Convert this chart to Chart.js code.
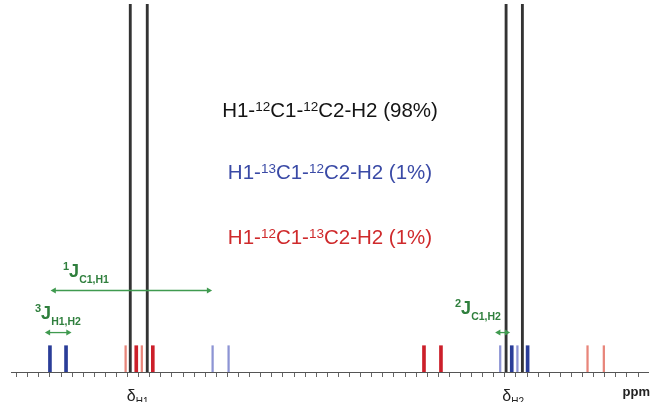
<!DOCTYPE html>
<html>
<head>
<meta charset="utf-8">
<script src="https://cdn.jsdelivr.net/npm/chart.js@4.4.0/dist/chart.umd.min.js"></script>
<style>
  html, body { margin: 0; padding: 0; background: #fff; overflow: hidden; }
</style>
</head>
<body>
<canvas id="c" width="652" height="402"></canvas>
<script>
// Stick spectrum of H1/H2 with 13C satellites (x in tick units, y in % abundance)
const mainPos      = [10.24, 11.77, 44.11, 45.58];
const mainInt      = [49, 49, 49, 49];
const blueStrongPos = [3.0, 4.45, 44.62, 46.05];
const blueWeakPos   = [17.66, 19.10, 43.58, 45.13];
const redStrongPos  = [10.78, 12.27, 36.71, 38.24];
const redWeakPos    = [9.82, 11.28, 51.45, 52.92];
const satInt        = [1, 1, 1, 1];

// coupling arrows: from / to (x) and height (y)
const jNames = ['1', '3', '2'];
const jSubs  = ['C1,H1', 'H1,H2', 'C1,H2'];
const jFrom  = [3.37, 2.86, 43.44];
const jTo    = [17.3, 4.63, 44.16];
const jLevel = [3.1, 1.5, 1.5];

// chemical shift markers
const shiftNames  = ['H1', 'H2'];
const shiftValues = [10.9, 44.75];

// species captions
const speciesText = [
  [['H1-', 0], ['12', 1], ['C1-', 0], ['12', 1], ['C2-H2 (98%)', 0]],
  [['H1-', 0], ['13', 1], ['C1-', 0], ['12', 1], ['C2-H2 (1%)', 0]],
  [['H1-', 0], ['12', 1], ['C1-', 0], ['13', 1], ['C2-H2 (1%)', 0]]
];

const GREEN = '#3f9a4f';
const GREEN_TXT = '#2f7f3d';

function sticks(pos, ints, color, thick, order) {
  return {
    type: 'bar',
    data: pos.map((x, i) => ({ x, y: ints[i] })),
    backgroundColor: color,
    borderWidth: 0,
    barThickness: thick,
    grouped: false,
    order
  };
}

function arrow(i) {
  return {
    type: 'line',
    data: [{ x: jFrom[i], y: jLevel[i] }, { x: jTo[i], y: jLevel[i] }],
    borderColor: GREEN,
    borderWidth: 1.3,
    pointStyle: 'triangle',
    pointRadius: 3.5,
    pointRotation: [-90, 90],
    pointBackgroundColor: GREEN,
    pointBorderWidth: 0,
    order: -1
  };
}

function rich(ctx, segs, x, y, o) {
  const f = sz => (o.bold ? 'bold ' : '') + sz + 'px "Liberation Sans", Arial, sans-serif';
  let w = 0;
  segs.forEach(([t, m]) => { ctx.font = f(m ? o.small : o.size); w += ctx.measureText(t).width; });
  let cx = o.align === 'center' ? x - w / 2 : x;
  ctx.fillStyle = o.color;
  ctx.textAlign = 'left';
  ctx.textBaseline = 'alphabetic';
  segs.forEach(([t, m]) => {
    ctx.font = f(m ? (m === 1 && o.supSize ? o.supSize : o.small) : o.size);
    const dy = m === 1 ? -o.up : (m === -1 ? o.down : 0);
    ctx.fillText(t, cx, y + dy);
    cx += ctx.measureText(t).width;
  });
}

const textLayer = {
  id: 'textLayer',
  afterDraw(chart) {
    const ctx = chart.ctx;
    const xs = chart.scales.x;
    ctx.save();
    const cols = ['#141414', '#3a4aa6', '#cf2a2c'];
    const base = [116.5, 179, 243.5];
    speciesText.forEach((segs, i) => {
      rich(ctx, segs, 330, base[i], { size: 20.5, small: 13.5, up: 6, color: cols[i], align: 'center' });
    });

    const anchors = [[63, 277], [35, 318.5], [455, 314]];
    jNames.forEach((n, i) => {
      rich(ctx, [[n, 1], ['J', 0], [jSubs[i], -1]], anchors[i][0], anchors[i][1],
        { size: 18, small: 10.5, supSize: 11, up: 7, down: 6, bold: true, color: GREEN_TXT });
    });

    shiftNames.forEach((n, i) => {
      rich(ctx, [['\u03b4', 0], [n, -1]], xs.getPixelForValue(shiftValues[i]), 401,
        { size: 16, small: 10, down: 4, color: '#222', align: 'center' });
    });

    ctx.font = 'bold 13px "Liberation Sans", Arial, sans-serif';
    ctx.fillStyle = '#222';
    ctx.textAlign = 'right';
    ctx.fillText('ppm', 650, 396);
    ctx.restore();
  }
};

new Chart(document.getElementById('c'), {
  type: 'bar',
  data: {
    datasets: [
      sticks(mainPos, mainInt, '#333333', 2.2, 0),
      sticks(blueStrongPos, satInt, '#2a3d98', 3, 1),
      sticks(blueWeakPos, satInt, '#8d94d4', 1.6, 1),
      sticks(redStrongPos, satInt, '#cc1f2a', 3, 1),
      sticks(redWeakPos, satInt, '#e8857a', 1.6, 1),
      arrow(0), arrow(1), arrow(2)
    ]
  },
  options: {
    responsive: false,
    animation: false,
    events: [],
    layout: { padding: { left: 11, right: 2, top: 0, bottom: 25 } },
    plugins: { legend: { display: false }, tooltip: { enabled: false } },
    scales: {
      x: {
        type: 'linear',
        min: -0.51,
        max: 56.9,
        offset: false,
        grid: { offset: false, drawOnChartArea: false, drawTicks: true, tickLength: 5, color: '#666' },
        border: { display: true, color: '#555', width: 1 },
        ticks: { display: false, stepSize: 1, includeBounds: false, autoSkip: false }
      },
      y: { display: false, min: 0, max: 14 }
    }
  },
  plugins: [textLayer]
});
</script>
</body>
</html>
